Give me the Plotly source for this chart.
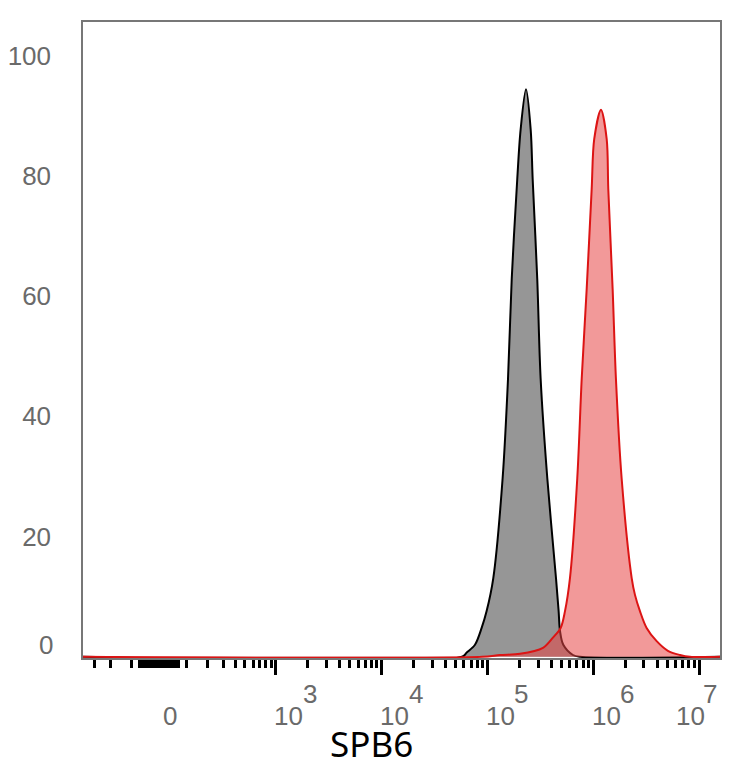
import numpy as np
import plotly.graph_objects as go

# histogram outlines, x in display decades (biexponential channel), y in % of max
gray_x = [4.759, 4.804, 4.882, 4.945, 4.992, 5.055, 5.143, 5.194, 5.229, 5.281, 5.313,
          5.364, 5.408, 5.427, 5.470, 5.502, 5.565, 5.647, 5.672, 5.685, 5.716, 5.807, 5.874]
gray_y = [0.0, 0.7, 2.0, 4.8, 7.6, 13.1, 29.7, 46.3, 62.9, 79.4, 87.7,
          94.4, 87.7, 79.4, 62.9, 46.3, 29.7, 13.1, 7.6, 4.3, 2.0, 0.3, 0.0]

red_x = [4.950, 5.118, 5.307, 5.524, 5.618, 5.691, 5.732, 5.779, 5.848, 5.890, 5.937, 5.984,
         6.008, 6.072, 6.126, 6.141, 6.182, 6.213, 6.267, 6.362, 6.393, 6.440, 6.503, 6.598,
         6.704, 6.818, 6.912]
red_y = [0.0, 0.3, 0.5, 1.5, 3.2, 4.8, 7.6, 13.1, 29.7, 46.3, 61.2, 77.8,
         86.1, 91.0, 86.1, 77.8, 61.2, 46.3, 29.7, 13.1, 10.3, 7.6, 4.8, 2.6,
         1.0, 0.3, 0.0]

major_vals = [1e3, 1e4, 1e5, 1e6, 1e7]
major_exp = ["3", "4", "5", "6", "7"]
y_ticks = [20, 40, 60, 80, 100]

W = 79.0


def biex(v):
    v = np.asarray(v, dtype=float)
    return np.arcsinh(v / (2 * W)) / np.log(10) + np.log10(W)


x_lo, x_hi = 1.180, 7.196

# minor ticks: dense cluster round zero, then 1..9 per decade
minor = list(range(-70, 80, 10))
for s in (-1, 1):
    minor += [s * k * 100 for k in range(1, 10)]
for d in range(3, 7):
    minor += [k * 10 ** d for k in range(2, 10)]
minor_t = [float(t) for t in biex(minor) if x_lo < t < x_hi]
major_t = [float(t) for t in biex(major_vals)]

fig = go.Figure()
fig.add_trace(go.Scatter(
    x=[x_lo] + gray_x + [x_hi], y=[0] + gray_y + [0],
    mode="lines", line=dict(color="black", width=2, shape="spline", smoothing=0.9),
    fill="tozeroy", fillcolor="rgb(150,150,150)", hoverinfo="skip"))
fig.add_trace(go.Scatter(
    x=[x_lo] + red_x + [x_hi], y=[0] + red_y + [0],
    mode="lines", line=dict(color="rgb(220,20,20)", width=2, shape="spline", smoothing=0.9),
    fill="tozeroy", fillcolor="rgba(232,70,70,0.55)", hoverinfo="skip"))

lab_font = dict(family="Liberation Sans", size=26, color="#6a6a6a")
ann = []
# zero label on x
ann.append(dict(x=float(biex(0)), y=-0.0912, xref="x", yref="paper", text="0",
                showarrow=False, xshift=11, yanchor="middle", font=lab_font))
for i, (t, e) in enumerate(zip(major_t, major_exp)):
    last = i == len(major_t) - 1
    base_shift, exp_shift = (-9, 11) if last else (13, 34)
    ann.append(dict(x=t, y=-0.0912, xref="x", yref="paper", text="10",
                    showarrow=False, xshift=base_shift, yanchor="middle", font=lab_font))
    ann.append(dict(x=t, y=-0.0570, xref="x", yref="paper", text=e,
                    showarrow=False, xshift=exp_shift, yanchor="middle", font=lab_font))
# zero label on y sits a bit above the baseline
ann.append(dict(x=0, y=0, xref="paper", yref="y", text="0", showarrow=False,
                xanchor="right", yanchor="middle", xshift=-28, yshift=12, font=lab_font))
ann.append(dict(x=0.453, y=-0.135, xref="paper", yref="paper", text="SPB6",
                showarrow=False, xanchor="center", yanchor="middle",
                font=dict(family="Noto Sans", size=35, color="black")))

# page body adds ~8px round the figure, so the figure is drawn 8px smaller
fig.update_layout(
    width=726, height=760,
    margin=dict(l=75, r=14, t=14, b=110, autoexpand=False),
    paper_bgcolor="white", plot_bgcolor="white",
    showlegend=False,
    annotations=ann,
)
fig.update_xaxes(
    range=[x_lo, x_hi], showgrid=False, zeroline=False, automargin=False,
    showline=True, mirror=True, linecolor="#777777", linewidth=1.5,
    tickmode="array", tickvals=major_t, showticklabels=False,
    ticks="outside", ticklen=15, tickwidth=3, tickcolor="black",
    minor=dict(tickmode="array", tickvals=minor_t, ticks="outside",
               ticklen=8, tickwidth=2.5, tickcolor="black", showgrid=False),
)
fig.update_yaxes(
    range=[-0.2, 105.6], showgrid=False, zeroline=False, automargin=False,
    showline=True, mirror=True, linecolor="#777777", linewidth=1.5,
    tickmode="array", tickvals=y_ticks, ticks="",
    ticklabelstandoff=25, tickfont=lab_font,
)

fig.write_html("out.html")
